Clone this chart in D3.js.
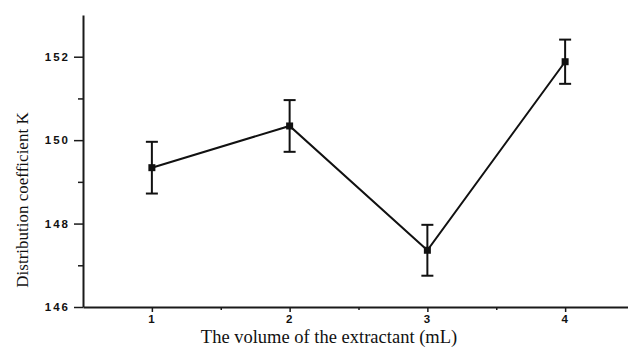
<!DOCTYPE html>
<html>
<head>
<meta charset="utf-8">
<script src="https://cdn.jsdelivr.net/npm/d3@7"></script>
<style>
  body { margin: 0; background: #fff; }
  svg { display: block; }
  .axis path, .axis line { stroke: #1a1a1a; }
  .axis text { font-family: "Liberation Sans", Arial, sans-serif; font-weight: bold; font-size: 11.5px; fill: #111; letter-spacing: 2px; }
  .title { font-family: "Liberation Serif", "Times New Roman", serif; fill: #111; }
</style>
</head>
<body>
<svg id="chart" width="628" height="351"></svg>
<script>
// Data
var volumes = [1, 2, 3, 4];
var kValues = [149.34, 150.34, 147.36, 151.88];
var kErrors = [0.62, 0.62, 0.61, 0.53];
var yMajorTicks = [146, 148, 150, 152];
var yMinorTicks = [147, 149, 151];
var xMajorTicks = [1, 2, 3, 4];
var xMinorTicks = [1.5, 2.5, 3.5];

var svg = d3.select("#chart");

// Axis
var x = d3.scaleLinear().domain([0.5, 4.5]).range([83, 634]);
var y = d3.scaleLinear().domain([146, 153]).range([307, 15]);

var points = volumes.map(function(v, i) {
    return { vol: v, k: kValues[i], err: kErrors[i] };
});

// minor ticks first so the major axis draws over them
svg.append("g")
    .attr("class", "axis")
    .attr("transform", "translate(83,0)")
    .call(d3.axisLeft(y).tickValues(yMinorTicks).tickSize(5).tickFormat(""))
    .call(function(g) { g.select(".domain").remove(); })
    .selectAll("line").attr("stroke-width", 1.5);

svg.append("g")
    .attr("class", "axis")
    .attr("transform", "translate(0,307)")
    .call(d3.axisBottom(x).tickValues(xMinorTicks).tickSize(3).tickFormat(""))
    .call(function(g) { g.select(".domain").remove(); })
    .selectAll("line").attr("stroke-width", 1.5);

var yAxis = svg.append("g")
    .attr("class", "axis")
    .attr("transform", "translate(83,0)")
    .call(d3.axisLeft(y).tickValues(yMajorTicks).tickSize(9).tickSizeOuter(0).tickPadding(4).tickFormat(d3.format("d")));
yAxis.select(".domain").attr("stroke-width", 2);
yAxis.selectAll(".tick line").attr("stroke-width", 1.5);

var xAxis = svg.append("g")
    .attr("class", "axis")
    .attr("transform", "translate(0,307)")
    .call(d3.axisBottom(x).tickValues(xMajorTicks).tickSize(5).tickSizeOuter(0).tickPadding(3).tickFormat(d3.format("d")));
xAxis.select(".domain").attr("stroke-width", 2);
xAxis.selectAll(".tick line").attr("stroke-width", 1.5);

// Axis titles
svg.append("text")
    .attr("class", "title")
    .attr("transform", "translate(28,200) rotate(-90)")
    .attr("text-anchor", "middle")
    .style("font-size", "17px")
    .text("Distribution coefficient K");

svg.append("text")
    .attr("class", "title")
    .attr("x", 329)
    .attr("y", 343)
    .attr("text-anchor", "middle")
    .style("font-size", "18.5px")
    .text("The volume of the extractant (mL)");

// Line
var kLine = d3.line()
    .x(function(d) { return x(d.vol); })
    .y(function(d) { return y(d.k); });

svg.append("path")
    .datum(points)
    .attr("fill", "none")
    .attr("stroke", "#111")
    .attr("stroke-width", 2)
    .attr("d", kLine);

// Error bars
var bars = svg.append("g").attr("stroke", "#111").attr("stroke-width", 2);
bars.selectAll("line.stem")
    .data(points).enter().append("line")
    .attr("class", "stem")
    .attr("x1", function(d) { return x(d.vol); })
    .attr("x2", function(d) { return x(d.vol); })
    .attr("y1", function(d) { return y(d.k + d.err); })
    .attr("y2", function(d) { return y(d.k - d.err); });

[1, -1].forEach(function(s) {
    bars.selectAll("line.cap" + (s > 0 ? "t" : "b"))
        .data(points).enter().append("line")
        .attr("class", "cap" + (s > 0 ? "t" : "b"))
        .attr("x1", function(d) { return x(d.vol) - 6; })
        .attr("x2", function(d) { return x(d.vol) + 6; })
        .attr("y1", function(d) { return y(d.k + s * d.err); })
        .attr("y2", function(d) { return y(d.k + s * d.err); });
});

// Square markers
svg.append("g").selectAll("rect")
    .data(points).enter().append("rect")
    .attr("x", function(d) { return x(d.vol) - 3.5; })
    .attr("y", function(d) { return y(d.k) - 3.5; })
    .attr("width", 7)
    .attr("height", 7)
    .attr("fill", "#111");
</script>
</body>
</html>
